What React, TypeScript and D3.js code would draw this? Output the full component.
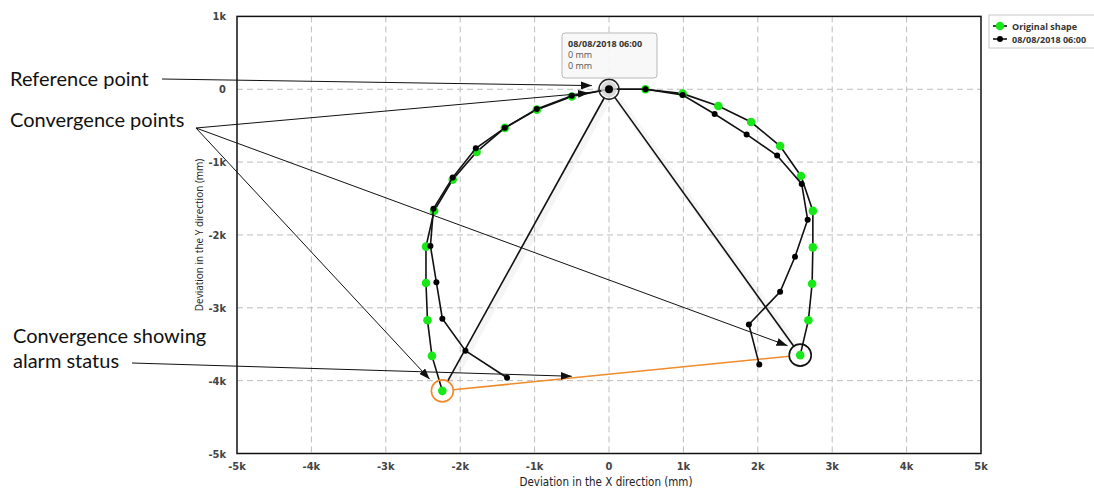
import * as d3 from "d3";
import { useEffect, useRef } from "react";

const W = 1094;
const H = 490;

// Original shape, convergence points in mm (left bottom -> crown -> right bottom)
const shapeX = [-2240, -2380, -2440, -2460, -2460, -2350, -2100, -1780, -1400, -970, -500, 0, 490, 990, 1470, 1910, 2300, 2580, 2740, 2740, 2730, 2680, 2570];
const shapeY = [-4140, -3660, -3170, -2660, -2160, -1670, -1240, -860, -530, -280, -100, 0, 0, -60, -230, -450, -780, -1190, -1670, -2170, -2670, -3170, -3650];

// Measurement of 08/08/2018 06:00
const measX = [-1370, -1930, -2240, -2320, -2400, -2360, -2100, -1790, -1400, -970, -500, 0, 490, 990, 1420, 1850, 2260, 2590, 2670, 2500, 2300, 1880, 2020];
const measY = [-3960, -3590, -3150, -2650, -2150, -1640, -1210, -810, -530, -270, -90, 0, 0, -80, -340, -620, -910, -1300, -1790, -2300, -2780, -3230, -3780];

const xTicks = [-5000, -4000, -3000, -2000, -1000, 0, 1000, 2000, 3000, 4000, 5000];
const yTicks = [1000, 0, -1000, -2000, -3000, -4000, -5000];
const tickLabel = (v: number) => (v === 0 ? "0" : `${v / 1000}k`);

const seriesNames = ["Original shape", "08/08/2018 06:00"];
const tooltipLines = ["08/08/2018 06:00", "0 mm", "0 mm"];

// reference point and the two convergence points (mm)
const refPoint = [0, 0];
const convLeft = [shapeX[0], shapeY[0]];
const convRight = [shapeX[shapeX.length - 1], shapeY[shapeY.length - 1]];

// callout texts and the points (mm) their arrows point at
const calloutText = [["Reference point"], ["Convergence points"], ["Convergence showing", "alarm status"]];
const calloutTargets = [
  [[-230, 50]],
  [[-270, -50], [-2410, -3980], [2400, -3520]],
  [[-500, -3940]],
];

const App = () => {
  const ref = useRef<SVGSVGElement | null>(null);

  useEffect(() => {
    if (!ref.current) return;
    const svg = d3.select(ref.current);
    svg.selectAll("*").remove();

    const x = d3.scaleLinear().domain([-5000, 5000]).range([237, 981]);
    const y = d3.scaleLinear().domain([-5000, 1000]).range([453.5, 16.4]);
    const [x0, x1] = x.range();
    const [y0, y1] = y.range();

    svg
      .append("defs")
      .append("marker")
      .attr("id", "arrow")
      .attr("markerUnits", "userSpaceOnUse")
      .attr("markerWidth", 11)
      .attr("markerHeight", 8)
      .attr("refX", 11)
      .attr("refY", 4)
      .attr("orient", "auto")
      .append("path")
      .attr("d", "M0,0 L11,4 L0,8 z")
      .attr("fill", "#111");

    const axisFont = "'Liberation Sans Narrow', 'DejaVu Sans Condensed', Roboto, sans-serif";
    const uiFont = "'Open Sans', 'Noto Sans', sans-serif";

    // --- grid ---
    const grid = svg.append("g").attr("stroke", "#bdbdbd").attr("stroke-dasharray", "6,4");
    grid
      .selectAll("line.v")
      .data(xTicks.slice(1, -1))
      .join("line")
      .attr("x1", (d) => x(d))
      .attr("x2", (d) => x(d))
      .attr("y1", y1)
      .attr("y2", y0);
    grid
      .selectAll("line.h")
      .data(yTicks.slice(1, -1))
      .join("line")
      .attr("x1", x0)
      .attr("x2", x1)
      .attr("y1", (d) => y(d))
      .attr("y2", (d) => y(d));

    svg
      .append("rect")
      .attr("x", x0)
      .attr("y", y1)
      .attr("width", x1 - x0)
      .attr("height", y0 - y1)
      .attr("fill", "none")
      .attr("stroke", "#111")
      .attr("stroke-width", 1.5);

    // --- tick labels ---
    svg
      .append("g")
      .selectAll("text")
      .data(xTicks)
      .join("text")
      .attr("x", (d) => x(d))
      .attr("y", 470)
      .attr("text-anchor", "middle")
      .attr("font-family", axisFont)
      .attr("font-size", 11)
      .attr("font-weight", "bold")
      .attr("fill", "#444")
      .text(tickLabel);
    svg
      .append("g")
      .selectAll("text")
      .data(yTicks)
      .join("text")
      .attr("x", 226)
      .attr("y", (d) => y(d) + 4)
      .attr("text-anchor", "end")
      .attr("font-family", axisFont)
      .attr("font-size", 11)
      .attr("font-weight", "bold")
      .attr("fill", "#444")
      .text(tickLabel);

    svg
      .append("text")
      .attr("x", (x0 + x1) / 2 - 3)
      .attr("y", 486)
      .attr("text-anchor", "middle")
      .attr("font-family", axisFont)
      .attr("font-size", 11.5)
      .attr("fill", "#222")
      .text("Deviation in the X direction (mm)");
    svg
      .append("text")
      .attr("transform", `translate(203,${(y0 + y1) / 2}) rotate(-90)`)
      .attr("text-anchor", "middle")
      .attr("font-family", uiFont)
      .attr("font-size", 10)
      .attr("fill", "#222")
      .text("Deviation in the Y direction (mm)");

    const path = (xs: number[], ys: number[]) =>
      d3
        .line<number>()
        .x((d) => x(d))
        .y((_d, i) => y(ys[i]))(xs);

    // --- lines from the reference point to the convergence points ---
    const edge = (a: number[], b: number[], ra: number, rb: number) => {
      const ax = x(a[0]), ay = y(a[1]), bx = x(b[0]), by = y(b[1]);
      const len = Math.hypot(bx - ax, by - ay);
      const ux = (bx - ax) / len, uy = (by - ay) / len;
      return [ax + ux * ra, ay + uy * ra, bx - ux * rb, by - uy * rb];
    };
    const legs = [edge(refPoint, convLeft, 10, 11), edge(refPoint, convRight, 10, 11)];
    // faint shadow
    svg
      .append("g")
      .selectAll("line")
      .data(legs)
      .join("line")
      .attr("x1", (d) => d[0] + 3)
      .attr("y1", (d) => d[1] + 2)
      .attr("x2", (d) => d[2] + 3)
      .attr("y2", (d) => d[3] + 2)
      .attr("stroke", "#000")
      .attr("stroke-opacity", 0.04)
      .attr("stroke-width", 7);
    svg
      .append("g")
      .selectAll("line")
      .data(legs)
      .join("line")
      .attr("x1", (d) => d[0])
      .attr("y1", (d) => d[1])
      .attr("x2", (d) => d[2])
      .attr("y2", (d) => d[3])
      .attr("stroke", "#111")
      .attr("stroke-width", 1.6);

    // alarm line between the convergence points
    const alarm = edge(convLeft, convRight, 11, 11);
    svg
      .append("line")
      .attr("x1", alarm[0])
      .attr("y1", alarm[1])
      .attr("x2", alarm[2])
      .attr("y2", alarm[3])
      .attr("stroke", "#f08a2a")
      .attr("stroke-width", 1.6);

    // --- series ---
    svg
      .append("path")
      .attr("d", path(shapeX, shapeY))
      .attr("fill", "none")
      .attr("stroke", "#111")
      .attr("stroke-width", 1.6);
    svg
      .append("g")
      .selectAll("circle")
      .data(shapeX)
      .join("circle")
      .attr("cx", (d) => x(d))
      .attr("cy", (_d, i) => y(shapeY[i]))
      .attr("r", 4.3)
      .attr("fill", "#18e818");

    svg
      .append("path")
      .attr("d", path(measX, measY))
      .attr("fill", "none")
      .attr("stroke", "#111")
      .attr("stroke-width", 1.6);
    svg
      .append("g")
      .selectAll("circle")
      .data(measX)
      .join("circle")
      .attr("cx", (d) => x(d))
      .attr("cy", (_d, i) => y(measY[i]))
      .attr("r", 3)
      .attr("fill", "#000");

    // --- rings ---
    const cx = x(refPoint[0]);
    const cy = y(refPoint[1]);
    svg.append("circle").attr("cx", cx).attr("cy", cy).attr("r", 8).attr("fill", "#cfcfcf").attr("fill-opacity", 0.8);
    svg.append("circle").attr("cx", cx).attr("cy", cy).attr("r", 4).attr("fill", "#000");
    svg
      .append("circle")
      .attr("cx", cx)
      .attr("cy", cy)
      .attr("r", 10)
      .attr("fill", "none")
      .attr("stroke", "#222")
      .attr("stroke-width", 1.5);
    svg
      .append("circle")
      .attr("cx", x(convRight[0]))
      .attr("cy", y(convRight[1]))
      .attr("r", 11)
      .attr("fill", "none")
      .attr("stroke", "#111")
      .attr("stroke-width", 1.6);
    svg
      .append("circle")
      .attr("cx", x(convLeft[0]))
      .attr("cy", y(convLeft[1]))
      .attr("r", 11)
      .attr("fill", "none")
      .attr("stroke", "#f08a2a")
      .attr("stroke-width", 1.6);

    // --- tooltip ---
    const tip = svg.append("g").attr("transform", "translate(562,33)");
    tip
      .append("rect")
      .attr("width", 95)
      .attr("height", 45)
      .attr("rx", 3)
      .attr("fill", "#f7f7f7")
      .attr("fill-opacity", 0.9)
      .attr("stroke", "#b8b8b8");
    tip
      .selectAll("text")
      .data(tooltipLines)
      .join("text")
      .attr("x", 6)
      .attr("y", (_d, i) => 14 + i * 11)
      .attr("font-family", uiFont)
      .attr("font-size", 9)
      .attr("font-weight", (_d, i) => (i === 0 ? "bold" : "normal"))
      .attr("fill", (_d, i) => (i === 0 ? "#333" : "#555"))
      .text((d) => d);

    // --- legend ---
    const lg = svg.append("g").attr("transform", "translate(989,15)");
    lg.append("rect").attr("width", 110).attr("height", 33).attr("fill", "#fff").attr("stroke", "#c8c8c8");
    const item = lg
      .selectAll("g")
      .data(seriesNames)
      .join("g")
      .attr("transform", (_d, i) => `translate(0,${11 + i * 13})`);
    item.append("line").attr("x1", 4).attr("x2", 18).attr("stroke", "#111").attr("stroke-width", 1.6);
    item
      .append("circle")
      .attr("cx", 11)
      .attr("r", (_d, i) => (i === 0 ? 4.3 : 3))
      .attr("fill", (_d, i) => (i === 0 ? "#18e818" : "#000"));
    item
      .append("text")
      .attr("x", 23)
      .attr("y", 3.5)
      .attr("font-family", uiFont)
      .attr("font-size", 9)
      .attr("font-weight", "bold")
      .attr("fill", "#333")
      .text((d) => d);

    // --- callouts ---
    const textPos = [
      [10, 86],
      [10, 127],
      [13, 343],
    ];
    const lineFrom = [
      [162, 79],
      [196, 128],
      [132, 363],
    ];
    calloutText.forEach((lines, k) => {
      svg
        .append("g")
        .selectAll("text")
        .data(lines)
        .join("text")
        .attr("x", textPos[k][0])
        .attr("y", (_d, i) => textPos[k][1] + i * 25)
        .attr("font-family", "Lato, 'Open Sans', sans-serif")
        .attr("font-size", 20)
        .attr("fill", "#111")
        .text((d) => d);
      svg
        .append("g")
        .selectAll("line")
        .data(calloutTargets[k])
        .join("line")
        .attr("x1", lineFrom[k][0])
        .attr("y1", lineFrom[k][1])
        .attr("x2", (d) => x(d[0]))
        .attr("y2", (d) => y(d[1]))
        .attr("stroke", "#111")
        .attr("stroke-width", 1)
        .attr("marker-end", "url(#arrow)");
    });
  }, []);

  return (
    <div style={{ position: "fixed", left: 0, top: 0, width: W, height: H, background: "#fff" }}>
      <svg ref={ref} width={W} height={H} />
    </div>
  );
};

export default App;
